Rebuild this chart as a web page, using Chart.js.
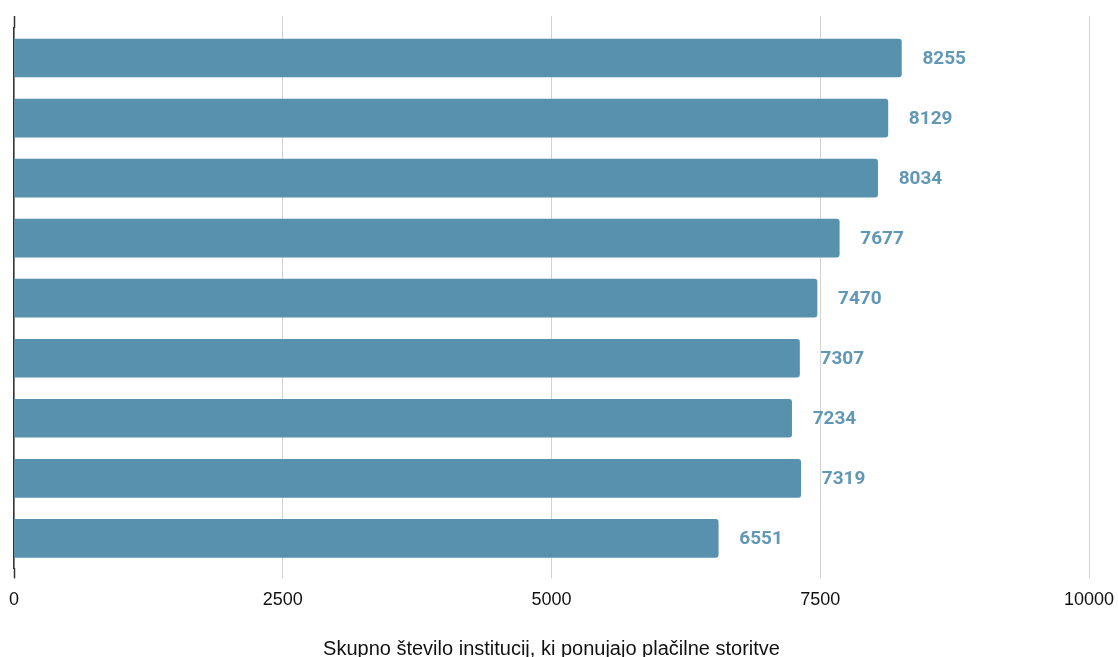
<!DOCTYPE html>
<html>
<head>
<meta charset="utf-8">
<script src="https://cdn.jsdelivr.net/npm/chart.js@4.4.1/dist/chart.umd.min.js"></script>
<style>
  html, body { margin: 0; padding: 0; background: #ffffff; }
  #wrap { width: 1118px; height: 657px; }
</style>
</head>
<body>
<div id="wrap"><canvas id="c" width="1118" height="657"></canvas></div>
<script>
// Rows, top to bottom
const categories = ['1', '2', '3', '4', '5', '6', '7', '8', '9'];
const values = [8255, 8129, 8034, 7677, 7470, 7307, 7234, 7319, 6551];
const xTicks = [0, 2500, 5000, 7500, 10000];
const axisTitle = 'Skupno število institucij, ki ponujajo plačilne storitve';

const BAR = '#5891ae';
const LABEL = '#6198b5';
const GRID = '#d2d2d2';
const AXIS = '#333333';

// Value labels drawn to the right of each bar
const valueLabels = {
  id: 'valueLabels',
  afterDatasetsDraw(chart) {
    const ctx = chart.ctx;
    const meta = chart.getDatasetMeta(0);
    ctx.save();
    ctx.font = 'bold 19px Roboto, sans-serif';
    ctx.fillStyle = LABEL;
    ctx.textAlign = 'left';
    ctx.textBaseline = 'middle';
    meta.data.forEach((bar, i) => {
      ctx.fillText(String(values[i]), bar.x + 21, bar.y + 1);
    });
    ctx.restore();
  }
};

const edgeTick = (c) => (c.tick && c.tick.value === 0 ? AXIS : GRID);
const edgeWidth = (c) => (c.tick && c.tick.value === 0 ? 1.5 : 1);
// let the layout padding alone decide the horizontal extent of the plot
const noSidePadding = (scale) => { scale.paddingLeft = 0; scale.paddingRight = 0; };

new Chart(document.getElementById('c'), {
  type: 'bar',
  data: {
    labels: categories,
    datasets: [{
      data: values,
      backgroundColor: BAR,
      borderRadius: 3,
      borderSkipped: 'start',
      barThickness: 38
    }]
  },
  options: {
    indexAxis: 'y',
    responsive: false,
    maintainAspectRatio: false,
    animation: false,
    events: [],
    layout: { padding: { left: 14, right: 29, top: 16, bottom: 0 } },
    plugins: {
      legend: { display: false },
      tooltip: { enabled: false }
    },
    scales: {
      x: {
        position: 'bottom',
        min: 0,
        max: 10000,
        afterBuildTicks(scale) { scale.ticks = xTicks.map(v => ({ value: v })); },
        afterFit: noSidePadding,
        grid: {
          color: GRID,
          lineWidth: 1,
          drawTicks: true,
          tickLength: 10,
          tickColor: edgeTick,
          tickWidth: edgeWidth
        },
        border: { display: false },
        ticks: {
          color: '#111111',
          font: { family: '"Liberation Sans", Arial, sans-serif', size: 18 },
          padding: 11,
          maxRotation: 0,
          autoSkip: false,
          callback: (v) => String(v)
        },
        title: {
          display: true,
          text: axisTitle,
          color: '#111111',
          font: { family: '"Liberation Sans", Arial, sans-serif', size: 20, lineHeight: 0.8 },
          padding: { top: 19, bottom: 0 }
        }
      },
      x2: {
        position: 'top',
        min: 0,
        max: 10000,
        afterBuildTicks(scale) { scale.ticks = xTicks.map(v => ({ value: v })); },
        afterFit: noSidePadding,
        grid: {
          drawOnChartArea: false,
          drawTicks: true,
          tickLength: 12,
          tickColor: edgeTick,
          tickWidth: edgeWidth
        },
        border: { display: false },
        ticks: { display: false }
      },
      y: {
        offset: true,
        grid: { display: false, drawTicks: false },
        border: { display: true, color: AXIS, width: 1.5 },
        ticks: { display: false }
      }
    }
  },
  plugins: [valueLabels]
});
</script>
</body>
</html>
